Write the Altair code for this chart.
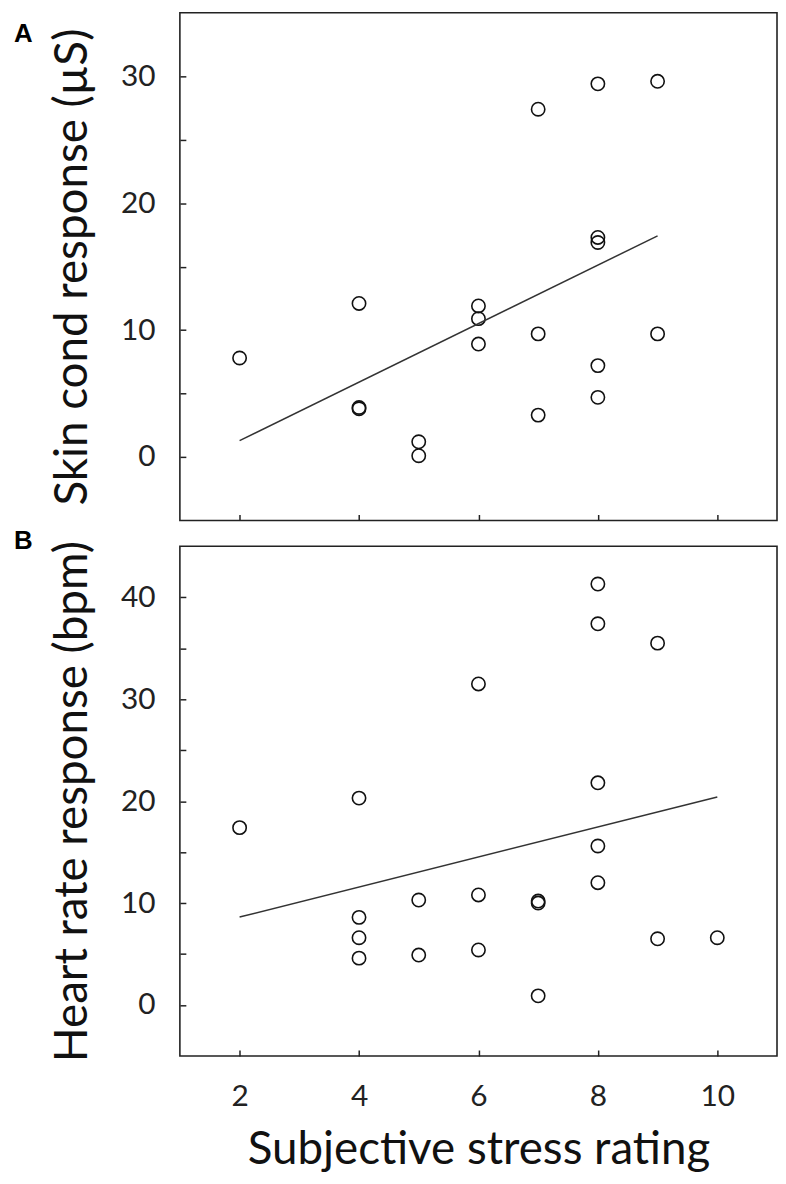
import altair as alt
import pandas as pd

# ---- data ----
stress_a = [2, 4, 4, 4, 5, 5, 6, 6, 6, 7, 7, 7, 8, 8, 8, 8, 8, 9, 9]
skin_a = [7.8, 12.1, 3.8, 3.9, 1.2, 0.1, 11.9, 10.9, 8.9, 27.4, 9.7, 3.3,
          29.4, 17.3, 16.9, 7.2, 4.7, 29.6, 9.7]

stress_b = [2, 4, 4, 4, 4, 5, 5, 6, 6, 6, 7, 7, 7, 8, 8, 8, 8, 8, 9, 9, 10]
heart_b = [17.4, 20.3, 8.6, 6.6, 4.6, 10.3, 4.9, 31.5, 10.8, 5.4, 10.2, 10.0,
           0.9, 41.3, 37.4, 21.8, 15.6, 12.0, 35.5, 6.5, 6.6]

x_ticks = [2, 4, 6, 8, 10]
y_ticks_a = [0, 5, 10, 15, 20, 25, 30]
y_ticks_b = [0, 5, 10, 15, 20, 25, 30, 35, 40]
panel_letters = ["A", "B"]
y_titles = ["Skin cond response (\u00b5S)", "Heart rate response (bpm)"]
x_title = "Subjective stress rating"

FONT = "Lato"
W = 601


def panel(xs, ys, ydomain, yticks, ytitle, letter, letter_y, height, bottom):
    df = pd.DataFrame({"stress": xs, "resp": ys})
    if bottom:
        xaxis = alt.Axis(values=x_ticks, tickSize=6, offset=-6, domain=False, grid=False,
                         tickColor="#222", tickWidth=1.5, labelFont=FONT, labelFontSize=30,
                         labelColor="#222", labelPadding=26, labelFlush=False,
                         title=x_title, titleFont=FONT, titleFontSize=46,
                         titleFontWeight="normal", titleColor="#111",
                         titleBaseline="alphabetic", titleY=114)
    else:
        xaxis = alt.Axis(values=x_ticks, tickSize=6, offset=-6, domain=False, grid=False,
                         tickColor="#222", tickWidth=1.5, labels=False, title=None)
    yaxis = alt.Axis(values=yticks, tickSize=6, offset=-6, domain=False, grid=False,
                     tickColor="#222", tickWidth=1.5,
                     labelExpr="datum.value % 10 === 0 ? datum.label : ''",
                     labelFont=FONT, labelFontSize=30, labelColor="#222", labelPadding=25,
                     title=ytitle, titleFont=FONT, titleFontSize=46,
                     titleFontWeight="normal", titleColor="#111",
                     titleBaseline="alphabetic", titleX=-100)
    X = alt.X("stress:Q", scale=alt.Scale(domain=[1, 11], nice=False, zero=False), axis=xaxis)
    Y = alt.Y("resp:Q", scale=alt.Scale(domain=ydomain, nice=False, zero=False), axis=yaxis)
    base = alt.Chart(df)
    pts = base.mark_point(shape="circle", filled=False, color="#111", size=180,
                          strokeWidth=1.6, opacity=1).encode(x=X, y=Y)
    fit = base.transform_regression("stress", "resp").mark_line(
        color="#333", strokeWidth=1.5).encode(x=X, y=Y)
    lab = alt.Chart(pd.DataFrame({"t": [letter]})).mark_text(
        font="Liberation Sans", fontWeight="bold", fontSize=26, align="left",
        baseline="alphabetic", color="#000").encode(
        x=alt.value(-167), y=alt.value(letter_y), text="t:N")
    return alt.layer(pts, fit, lab).properties(width=W, height=height)


top = panel(stress_a, skin_a, [-5, 35], y_ticks_a, y_titles[0], panel_letters[0], 29, 511, False)
bot = panel(stress_b, heart_b, [-5, 45], y_ticks_b, y_titles[1], panel_letters[1], 2.5, 513, True)

chart = alt.vconcat(top, bot, spacing=26, bounds="flush").properties(
    padding={"left": 5, "top": 0, "right": 0, "bottom": 0}
).configure_view(stroke="#222", strokeWidth=1.6)

chart.save("out.html", embed_options={"renderer": "svg", "actions": False})
